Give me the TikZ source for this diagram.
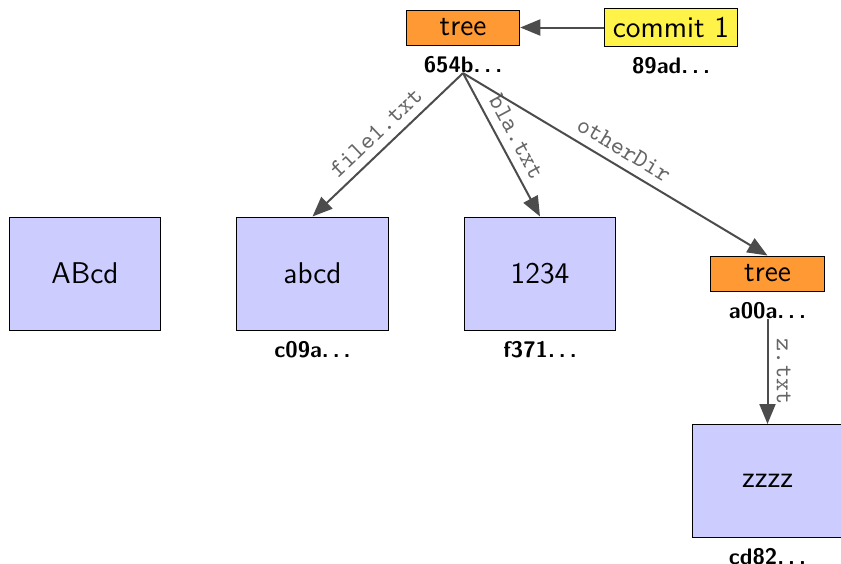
\documentclass[tikz,border=0pt]{standalone}
\usepackage{tikz}
\usetikzlibrary{arrows.meta,positioning}
\definecolor{treecol}{RGB}{255,153,51}
\definecolor{commitcol}{RGB}{255,242,72}
\definecolor{blobcol}{RGB}{204,204,255}
\newcommand{\ellip}{.\kern1.6pt.\kern1.6pt.}
\tikzstyle{objbox} = [draw=black, font=\large\sffamily, inner sep=3.33pt]
\tikzstyle{treebox} = [objbox, fill=treecol, minimum width=45.4pt, minimum height=14pt]
\tikzstyle{commitbox} = [objbox, fill=commitcol]
\tikzstyle{blobbox} = [objbox, fill=blobcol, minimum width=60.4pt, minimum height=45.2pt]
\tikzstyle{hashlabel} = [font=\small\sffamily\bfseries, inner sep=0pt]
\tikzstyle{pointer} = [->, draw=black!70, line width=0.8pt]
\tikzstyle{fname} = [font=\ttfamily, text=black!60, sloped, above]

\begin{document}
\begin{tikzpicture}[x=0.4pt,y=-0.4pt,node distance=91pt,>={Triangle[length=8pt,width=6.4pt]}]
    \useasboundingbox (0,0) rectangle (841,563);
    % commit and its root tree
    \node[treebox] (root) at (463,27.5) {tree};
    \node[commitbox, on grid, right=83.2pt of root] (commit) {commit 1};
    \node[hashlabel, below=4pt of root] (rooth) {654b\ellip};
    \node[hashlabel, below=4pt of commit] (commith) {89ad\ellip};
    % blobs and sub tree
    \node[blobbox, on grid, below left=98.4pt and 60.2pt of root] (abcd) {abcd};
    \node[blobbox, on grid, left=of abcd] (ABcd) {ABcd};
    \node[blobbox, on grid, right=of abcd] (num) {1234};
    \node[treebox, on grid, right=of num] (sub) {tree};
    \node[blobbox, on grid, below=83pt of sub] (zzzz) {zzzz};
    \node[hashlabel, below=4pt of abcd] (abcdh) {c09a\ellip};
    \node[hashlabel, below=4pt of num] (numh) {f371\ellip};
    \node[hashlabel, below=4pt of sub] (subh) {a00a\ellip};
    \node[hashlabel, below=4pt of zzzz] (zzzzh) {cd82\ellip};
    % pointers
    \draw[pointer] (commit) -- (root);
    \draw[pointer] (rooth.south) -- node[fname] {file1.txt} (abcd.north);
    \draw[pointer] (rooth.south) -- node[fname] {bla.txt} (num.north);
    \draw[pointer] (rooth.south) -- node[fname] {otherDir} (sub.north);
    \draw[pointer] (subh.south) -- node[fname] {z.txt} (zzzz.north);
\end{tikzpicture}
\end{document}
